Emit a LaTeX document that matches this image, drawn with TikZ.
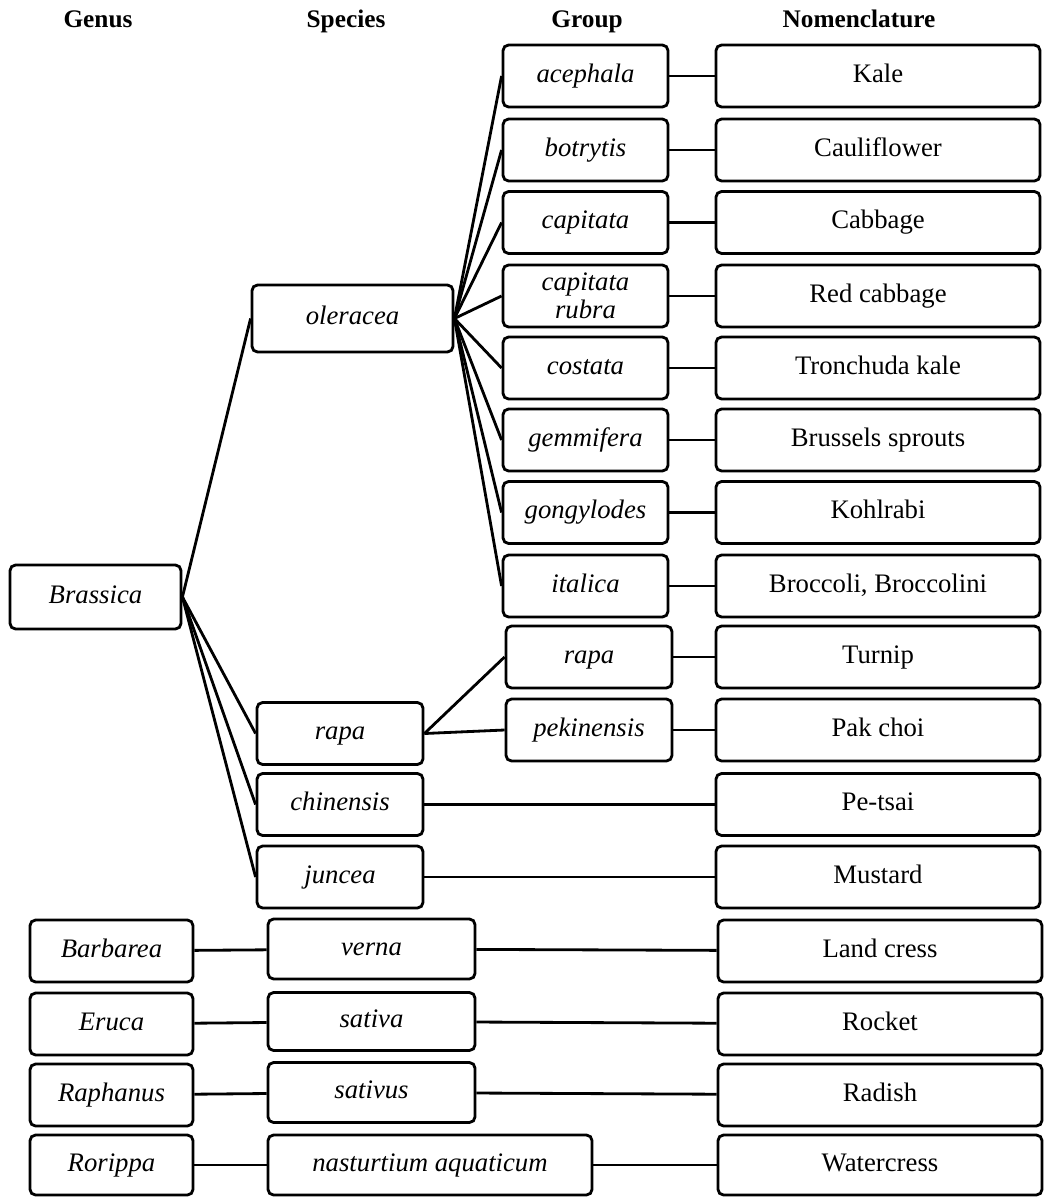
\documentclass[tikz,border=0pt]{standalone}
\usepackage{fontspec}
\setmainfont{Liberation Serif}

\begin{document}
\begin{tikzpicture}[x=0.025cm,y=-0.025cm,
  box/.style={rectangle,draw,rounded corners=4pt,line width=2pt,inner sep=0pt,
    minimum height=1.55cm,text height=13pt,text depth=4pt,
    font=\fontsize{19}{20}\selectfont},
  taxon/.style={box,font=\fontsize{19}{20}\selectfont\itshape},
  head/.style={font=\fontsize{18}{20}\selectfont\bfseries,text height=12pt,text depth=4pt},
  link/.style={line width=2pt}]
\useasboundingbox (0,0) rectangle (1045,1197);

% column heads
\node [head] (hgen) at (98,22) {Genus};
\node [head] (hspc) at (346,22) {Species};
\node [head] (hgrp) at (587,22) {Group};
\node [head] (hnom) at (859,22) {Nomenclature};

% genus
\node [taxon,minimum width=4.275cm,minimum height=1.6cm] (brassica) at (95.5,597) {Brassica};
\node [taxon,minimum width=4.075cm] (barbarea) at (111.5,951) {Barbarea};
\node [taxon,minimum width=4.075cm] (eruca) at (111.5,1024) {Eruca};
\node [taxon,minimum width=4.075cm] (raphanus) at (111.5,1095) {Raphanus};
\node [taxon,minimum width=4.075cm,minimum height=1.5cm] (rorippa) at (111.5,1165) {Rorippa};

% species
\node [taxon,minimum width=5.025cm,minimum height=1.675cm] (oleracea) at (352.5,318.5) {oleracea};
\node [taxon,minimum width=4.15cm] (rapa) at (340,733.5) {rapa};
\node [taxon,minimum width=4.15cm] (chinensis) at (340,804.5) {chinensis};
\node [taxon,minimum width=4.15cm] (juncea) at (340,877) {juncea};
\node [taxon,minimum width=5.175cm,minimum height=1.5cm] (verna) at (371.5,949) {verna};
\node [taxon,minimum width=5.175cm,minimum height=1.45cm] (sativa) at (371.5,1021.5) {sativa};
\node [taxon,minimum width=5.175cm,minimum height=1.5cm] (sativus) at (371.5,1092.5) {sativus};
\node [taxon,minimum width=8.1cm,minimum height=1.5cm] (nasturtium) at (430,1165) {nasturtium aquaticum};

% group
\node [taxon,minimum width=4.125cm] (acephala) at (585.5,76) {acephala};
\node [taxon,minimum width=4.125cm] (botrytis) at (585.5,150) {botrytis};
\node [taxon,minimum width=4.125cm] (capitata) at (585.5,222.5) {capitata};
\node [taxon,minimum width=4.125cm,align=center,text height=,text depth=] (rubra) at (585.5,296) {capitata\\rubra};
\node [taxon,minimum width=4.125cm] (costata) at (585.5,368) {costata};
\node [taxon,minimum width=4.125cm] (gemmifera) at (585.5,440) {gemmifera};
\node [taxon,minimum width=4.125cm] (gongylodes) at (585.5,512.5) {gongylodes};
\node [taxon,minimum width=4.125cm] (italica) at (585.5,586) {italica};
\node [taxon,minimum width=4.15cm] (grapa) at (589,657) {rapa};
\node [taxon,minimum width=4.15cm] (pekinensis) at (589,730) {pekinensis};

% nomenclature
\node [box,minimum width=8.1cm] (kale) at (878,76) {Kale};
\node [box,minimum width=8.1cm] (cauliflower) at (878,150) {Cauliflower};
\node [box,minimum width=8.1cm] (cabbage) at (878,222.5) {Cabbage};
\node [box,minimum width=8.1cm] (redcabbage) at (878,296) {Red cabbage};
\node [box,minimum width=8.1cm] (tronchuda) at (878,368) {Tronchuda kale};
\node [box,minimum width=8.1cm] (brussels) at (878,440) {Brussels sprouts};
\node [box,minimum width=8.1cm] (kohlrabi) at (878,512.5) {Kohlrabi};
\node [box,minimum width=8.1cm] (broccoli) at (878,586) {Broccoli, Broccolini};
\node [box,minimum width=8.1cm] (turnip) at (878,657) {Turnip};
\node [box,minimum width=8.1cm] (pakchoi) at (878,730) {Pak choi};
\node [box,minimum width=8.1cm] (petsai) at (878,804.5) {Pe-tsai};
\node [box,minimum width=8.1cm] (mustard) at (878,877) {Mustard};
\node [box,minimum width=8.1cm] (landcress) at (880,951) {Land cress};
\node [box,minimum width=8.1cm] (rocket) at (880,1024) {Rocket};
\node [box,minimum width=8.1cm] (radish) at (880,1095) {Radish};
\node [box,minimum width=8.1cm,minimum height=1.5cm] (watercress) at (880,1165) {Watercress};

% genus to species
\draw [link] (brassica.east) -- (oleracea.west);
\draw [link] (brassica.east) -- (rapa.west);
\draw [link] (brassica.east) -- (chinensis.west);
\draw [link] (brassica.east) -- (juncea.west);
\draw [link] (barbarea) -- (verna);
\draw [link] (eruca) -- (sativa);
\draw [link] (raphanus) -- (sativus);
\draw [link] (rorippa) -- (nasturtium);

% species to group
\foreach \g in {acephala,botrytis,capitata,rubra,costata,gemmifera,gongylodes,italica}
  \draw [link] (oleracea.east) -- (\g.west);
\draw [link] (rapa.east) -- (grapa.west);
\draw [link] (rapa.east) -- (pekinensis.west);

% group to nomenclature
\draw [link] (acephala) -- (kale);
\draw [link] (botrytis) -- (cauliflower);
\draw [link] (capitata) -- (cabbage);
\draw [link] (rubra) -- (redcabbage);
\draw [link] (costata) -- (tronchuda);
\draw [link] (gemmifera) -- (brussels);
\draw [link] (gongylodes) -- (kohlrabi);
\draw [link] (italica) -- (broccoli);
\draw [link] (grapa) -- (turnip);
\draw [link] (pekinensis) -- (pakchoi);
\draw [link] (chinensis) -- (petsai);
\draw [link] (juncea) -- (mustard);
\draw [link] (verna) -- (landcress);
\draw [link] (sativa) -- (rocket);
\draw [link] (sativus) -- (radish);
\draw [link] (nasturtium) -- (watercress);
\end{tikzpicture}
\end{document}
